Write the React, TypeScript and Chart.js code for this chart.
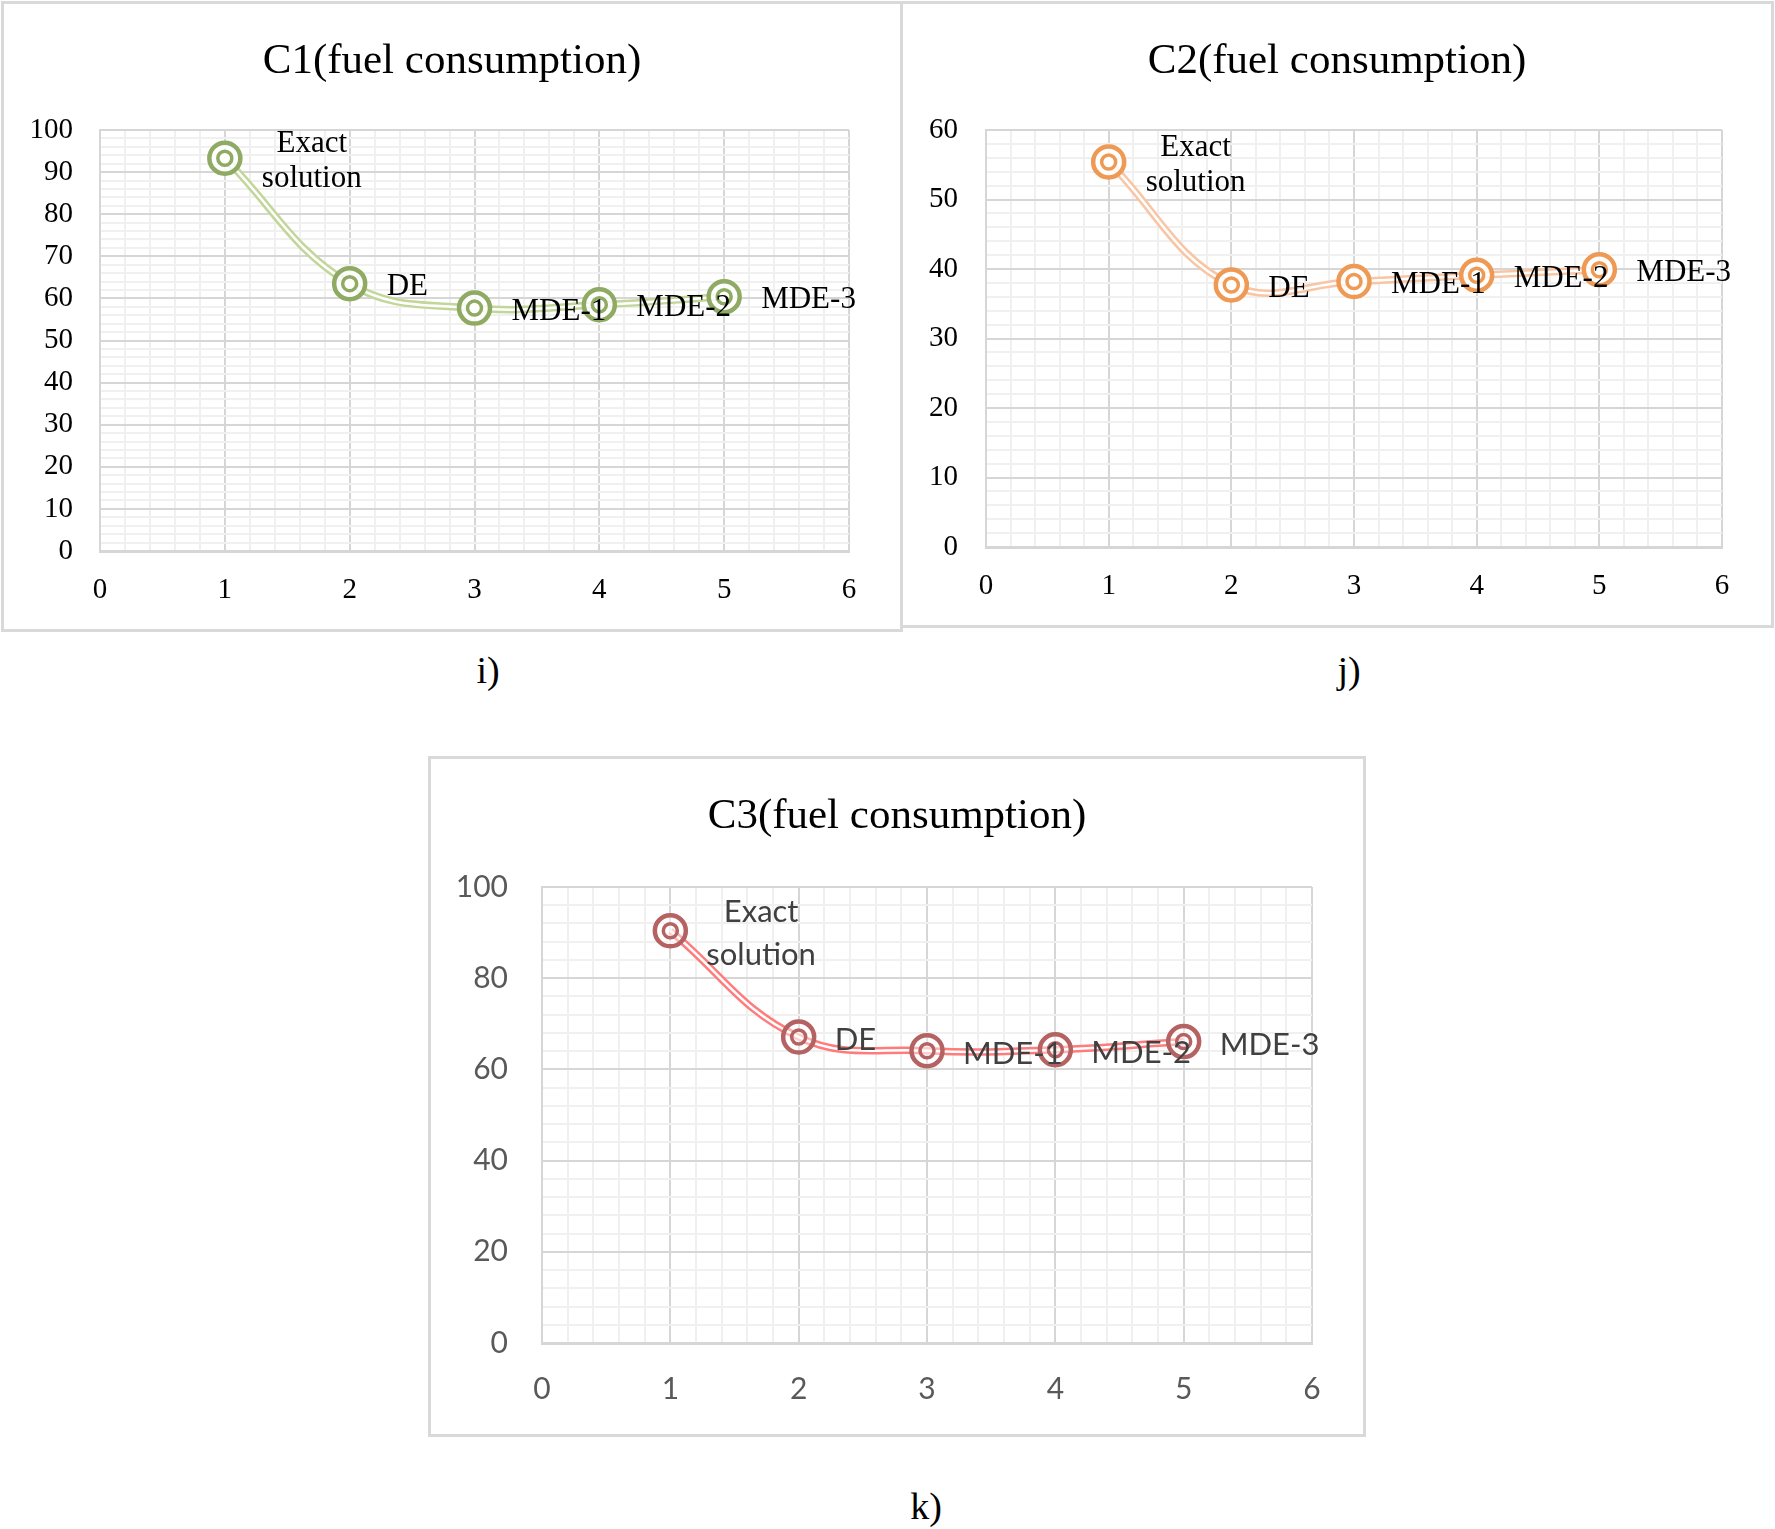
import React, { useEffect, useRef } from "react";
import { Chart, registerables } from "chart.js";

Chart.register(...registerables);

// ---------- data ----------
const xValues = [1, 2, 3, 4, 5];
const pointLabels = [["Exact", "solution"], ["DE"], ["MDE-1"], ["MDE-2"], ["MDE-3"]];
const c1Values = [93.3, 63.5, 57.7, 58.5, 60.4];
const c2Values = [55.4, 37.7, 38.2, 39.1, 39.9];
const c3Values = [90.4, 67.1, 64.1, 64.3, 66.1];
const c1Title = "C1(fuel consumption)";
const c2Title = "C2(fuel consumption)";
const c3Title = "C3(fuel consumption)";
const captions = ["i)", "j)", "k)"];

const SERIF = "'Liberation Serif', 'Times New Roman', serif";
const SANS = "Lato, 'Open Sans', sans-serif";

type Spec = {
  values: number[];
  title: string;
  yMax: number;
  yMajor: number;
  yMinor: number;
  lineColor: string;
  markerColor: string;
  markerFill: string;
  tickFamily: string;
  tickSize: number;
  tickColor: string;
  labelFamily: string;
  labelSize: number;
  labelColor: string;
  labelGap: number;
  labelLineGap: number;
  labelDy: number;
  box: { left: number; top: number; width: number; height: number };
  yAxisWidth: number;
  xAxisHeight: number;
  rightPad: number;
  titleTop: number;
  titleBottom: number;
  yTickPad: number;
  xTickPad: number;
};

const BORDER = 3;
const TITLE_SIZE = 43;

const specs: Spec[] = [
  {
    values: c1Values,
    title: c1Title,
    yMax: 100,
    yMajor: 10,
    yMinor: 2,
    lineColor: "#C2D69A",
    markerColor: "#8FAA62",
    markerFill: "rgba(255,255,255,0.85)",
    tickFamily: SERIF,
    tickSize: 29,
    tickColor: "#000000",
    labelFamily: SERIF,
    labelSize: 31,
    labelColor: "#000000",
    labelGap: 37,
    labelLineGap: 35,
    labelDy: 3.5,
    box: { left: 1, top: 1, width: 902, height: 631 },
    yAxisWidth: 96,
    xAxisHeight: 78,
    rightPad: 51,
    titleTop: 31.5,
    titleBottom: 42.9,
    yTickPad: 27,
    xTickPad: 22,
  },
  {
    values: c2Values,
    title: c2Title,
    yMax: 60,
    yMajor: 10,
    yMinor: 2,
    lineColor: "#F8C6A4",
    markerColor: "#EE9A55",
    markerFill: "rgba(255,255,255,0.85)",
    tickFamily: SERIF,
    tickSize: 29,
    tickColor: "#000000",
    labelFamily: SERIF,
    labelSize: 31,
    labelColor: "#000000",
    labelGap: 37,
    labelLineGap: 35,
    labelDy: 3.5,
    box: { left: 900, top: 1, width: 874, height: 627 },
    yAxisWidth: 83,
    xAxisHeight: 78,
    rightPad: 49,
    titleTop: 31.5,
    titleBottom: 42.9,
    yTickPad: 28,
    xTickPad: 21.5,
  },
  {
    values: c3Values,
    title: c3Title,
    yMax: 100,
    yMajor: 20,
    yMinor: 4,
    lineColor: "#FF7C7C",
    markerColor: "#B46262",
    markerFill: "rgba(255,255,255,0.4)",
    tickFamily: SANS,
    tickSize: 30,
    tickColor: "#595959",
    labelFamily: SANS,
    labelSize: 31,
    labelColor: "#404040",
    labelGap: 36,
    labelLineGap: 43,
    labelDy: 3,
    box: { left: 428, top: 756, width: 938, height: 681 },
    yAxisWidth: 111,
    xAxisHeight: 91,
    rightPad: 51,
    titleTop: 32.4,
    titleBottom: 44,
    yTickPad: 34,
    xTickPad: 28,
  },
];

const isMultiple = (v: number, step: number) => {
  const r = v / step;
  return Math.abs(r - Math.round(r)) < 1e-6;
};

function ChartBox({ spec }: { spec: Spec }) {
  const ref = useRef<HTMLCanvasElement>(null);
  const cw = spec.box.width - 2 * BORDER;
  const ch = spec.box.height - 2 * BORDER;

  useEffect(() => {
    const s = spec;
    const pts = xValues.map((x, i) => ({ x, y: s.values[i] }));
    const labelPlugin = {
      id: "pointTextLabels",
      afterDatasetsDraw(chart: any) {
        const meta = chart.getDatasetMeta(0);
        const ctx = chart.ctx as CanvasRenderingContext2D;
        ctx.save();
        ctx.font = `${s.labelSize}px ${s.labelFamily}`;
        ctx.fillStyle = s.labelColor;
        ctx.textBaseline = "middle";
        ctx.textAlign = "center";
        meta.data.forEach((el: any, i: number) => {
          const lines = pointLabels[i];
          const bw = Math.max(...lines.map((l) => ctx.measureText(l).width));
          const cx = el.x + s.labelGap + bw / 2;
          const total = (lines.length - 1) * s.labelLineGap;
          lines.forEach((l, j) =>
            ctx.fillText(l, cx, el.y + s.labelDy - total / 2 + j * s.labelLineGap)
          );
        });
        ctx.restore();
      },
    };
    const tickFont = { family: s.tickFamily, size: s.tickSize, lineHeight: 1.2 };
    const common = { xAxisID: "x", yAxisID: "y" };
    const chart = new Chart(ref.current as HTMLCanvasElement, {
      type: "line",
      data: {
        datasets: [
          { ...common, data: pts, borderColor: s.lineColor, borderWidth: 7.5, pointRadius: 0, tension: 0.4, order: 4, fill: false },
          { ...common, data: pts, borderColor: "#FFFFFF", borderWidth: 2.5, pointRadius: 0, tension: 0.4, order: 3, fill: false },
          {
            ...common,
            data: pts,
            showLine: false,
            pointRadius: 15.5,
            pointBorderWidth: 4.5,
            pointBorderColor: s.markerColor,
            pointBackgroundColor: s.markerFill,
            order: 2,
          },
          {
            ...common,
            data: pts,
            showLine: false,
            pointRadius: 7,
            pointBorderWidth: 3.5,
            pointBorderColor: s.markerColor,
            pointBackgroundColor: s.markerFill,
            order: 1,
          },
        ],
      } as any,
      options: {
        animation: false,
        responsive: false,
        devicePixelRatio: 1,
        events: [],
        layout: { padding: 0 },
        plugins: {
          legend: { display: false },
          tooltip: { enabled: false },
          title: {
            display: true,
            fullSize: true,
            text: s.title,
            color: "#000000",
            font: { family: SERIF, size: TITLE_SIZE, weight: "normal", lineHeight: 1.2 },
            padding: { top: s.titleTop, bottom: s.titleBottom },
          },
        },
        scales: {
          x: {
            type: "linear",
            min: 0,
            max: 6,
            afterFit: (sc: any) => {
              sc.height = s.xAxisHeight;
            },
            ticks: {
              stepSize: 0.2,
              autoSkip: false,
              maxRotation: 0,
              minRotation: 0,
              padding: s.xTickPad,
              color: s.tickColor,
              font: tickFont,
              callback: (v: any) => (isMultiple(Number(v), 1) ? String(Math.round(Number(v))) : ""),
            },
            grid: {
              drawTicks: false,
              color: (c: any) => (c.tick && isMultiple(c.tick.value, 1) ? "#D6D6D6" : "#F0F0F0"),
              lineWidth: 2,
            },
            border: { display: true, color: "#D6D6D6", width: 3 },
          },
          y: {
            type: "linear",
            position: "left",
            min: 0,
            max: s.yMax,
            afterFit: (sc: any) => {
              sc.width = s.yAxisWidth;
            },
            ticks: {
              stepSize: s.yMinor,
              autoSkip: false,
              padding: s.yTickPad,
              color: s.tickColor,
              font: tickFont,
              callback: (v: any) => (isMultiple(Number(v), s.yMajor) ? String(Math.round(Number(v))) : ""),
            },
            grid: {
              drawTicks: false,
              color: (c: any) => (c.tick && isMultiple(c.tick.value, s.yMajor) ? "#D6D6D6" : "#F0F0F0"),
              lineWidth: 2,
            },
            border: { display: true, color: "#D6D6D6", width: 2 },
          },
          yRightGap: {
            type: "linear",
            position: "right",
            display: true,
            min: 0,
            max: 1,
            afterFit: (sc: any) => {
              sc.width = s.rightPad;
            },
            ticks: { display: false },
            grid: { display: false, drawTicks: false },
            border: { display: false },
          },
        },
      } as any,
      plugins: [labelPlugin as any],
    });
    return () => chart.destroy();
  }, [spec]);

  return (
    <div
      style={{
        position: "absolute",
        left: spec.box.left,
        top: spec.box.top,
        width: spec.box.width,
        height: spec.box.height,
        boxSizing: "border-box",
        border: `${BORDER}px solid #D9D9D9`,
        background: "#FFFFFF",
      }}
    >
      <canvas ref={ref} width={cw} height={ch} style={{ display: "block", width: cw, height: ch }} />
    </div>
  );
}

const captionPos = [
  { x: 488, y: 670 },
  { x: 1349, y: 670 },
  { x: 926, y: 1506 },
];

export default function App() {
  return (
    <div style={{ position: "absolute", left: 0, top: 0, width: 1775, height: 1529, background: "#FFFFFF" }}>
      {specs.map((s, i) => (
        <ChartBox key={i} spec={s} />
      ))}
      {captions.map((c, i) => (
        <div
          key={c}
          style={{
            position: "absolute",
            left: captionPos[i].x,
            top: captionPos[i].y,
            transform: "translate(-50%, -50%)",
            fontFamily: SERIF,
            fontSize: 38,
            color: "#000000",
            lineHeight: 1,
            whiteSpace: "nowrap",
          }}
        >
          {c}
        </div>
      ))}
    </div>
  );
}
